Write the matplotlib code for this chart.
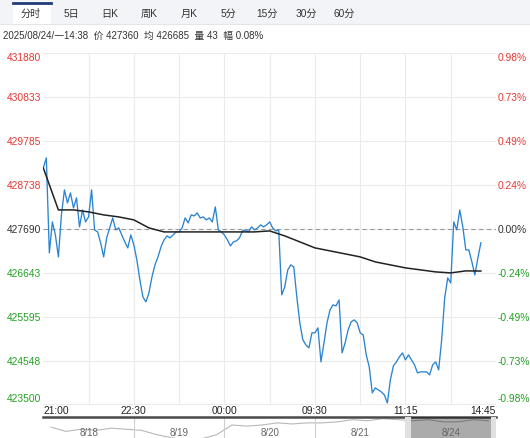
import matplotlib.pyplot as plt
from matplotlib.patches import Rectangle
import numpy as np

plt.rcParams['font.family'] = ['Liberation Sans', 'Noto Sans CJK SC', 'DejaVu Sans']

# Datos
tabs = ["分时", "5日", "日K", "周K", "月K", "5分", "15分", "30分", "60分"]
header = "2025/08/24/一14:38  价 427360  均 426685  量 43  幅 0.08%"
prev_close = 427690
price_ticks = [431880, 430833, 429785, 428738, 427690, 426643, 425595, 424548, 423500]
pct_ticks = ["0.98%", "0.73%", "0.49%", "0.24%", "0.00%", "-0.24%", "-0.49%", "-0.73%", "-0.98%"]
time_labels = ["21:00", "22:30", "00:00", "09:30", "11:15", "14:45"]
n_slots = 150

price = [
    429146, 429384, 427117, 427857, 427547, 427022, 428024, 428621, 428310, 428549,
    428191, 428430, 427738, 428143, 427857, 427976, 428621, 427666, 427618, 427356,
    427022, 427475, 427714, 427952, 427666, 427714, 427547, 427380, 427237, 427547,
    427308, 426950, 426473, 426068, 425948, 426163, 426545, 426831, 427022, 427261,
    427428, 427523, 427475, 427547, 427618, 427618, 427714, 427952, 427833, 428024,
    428000, 428072, 427952, 427976, 427905, 427952, 427857, 428215, 427666, 427618,
    427547, 427428, 427284, 427380, 427404, 427475, 427642, 427666, 427618, 427738,
    427666, 427714, 427785, 427738, 427785, 427857, 427714, 427642, 427666, 426115,
    426306, 426712, 426831, 426783, 426068, 425447, 425042, 424922, 424851, 425209,
    425209, 425328, 424517, 424970, 425447, 425757, 425877, 425853, 425996, 424731,
    424970, 425280, 425471, 425519, 425447, 425209, 425161, 424684, 424397, 423777,
    423896, 423849, 423801, 423729, 423538, 424087, 424421, 424517, 424636, 424731,
    424564, 424684, 424564, 424445, 424254, 424278, 424278, 424278, 424206, 424445,
    424517, 424326, 425042, 426044, 426521, 426402, 427857, 427666, 428143, 427738,
    427189, 427189, 426903, 426592, 426998, 427360,
]
avg_step = 5
avg_price = [
    429146, 428143, 428143, 428096, 428024, 427976, 427905, 427714, 427618, 427618,
    427618, 427618, 427618, 427618, 427618, 427642, 427523, 427380, 427237, 427165,
    427094, 427022, 426903, 426831, 426760, 426712, 426664, 426640, 426688, 426685,
]

nav_days = ["8/18", "8/19", "8/20", "8/21", "8/24"]
nav_price = [
    427500, 425500, 426500, 426000, 427000, 426500,
    426000, 424000, 422500, 421500, 422000, 424000,
    428500, 428000, 428500, 429500, 429000, 429500,
    429500, 430000, 431000, 430500, 431500, 431000,
    430500, 431000, 430000, 430000, 431000, 430500,
]

RED = "#e53935"
GREEN = "#23a123"
BLUE = "#2a84d2"
W, H = 530, 438


def box(l, t, r, b):
    return [l / W, 1 - b / H, (r - l) / W, (b - t) / H]


fig = plt.figure(figsize=(W / 100, H / 100), dpi=100)

# barra de pestañas
deco = fig.add_axes([0, 0, 1, 1])
deco.set_xlim(0, W)
deco.set_ylim(H, 0)
deco.axis("off")
deco.add_patch(Rectangle((0, 0), W, 24, color="#f2f4f7", lw=0))
deco.plot([0, W], [24, 24], color="#e2e5ea", lw=0.8)
deco.add_patch(Rectangle((13, 2.5), 38, 22, color="white", lw=0))
deco.plot([13, 51], [2.5, 2.5], color="#213b74", lw=2)
tab_x = [31, 71, 110, 149, 189, 228, 267, 306, 344]
for tx, name in zip(tab_x, tabs):
    deco.text(tx, 14, name, ha="center", va="center", fontsize=7.3, color="#333333")
deco.text(3, 36, header, ha="left", va="center", fontsize=7, color="#333333")

# gráfico principal
ax = fig.add_axes(box(43.3, 53.3, 496, 404.5))
ax.patch.set_alpha(0)
ax.set_xlim(0, n_slots)
ax.set_ylim(price_ticks[-1], price_ticks[0])
ax.set_yticks(price_ticks)
ax.set_xticks(np.linspace(0, n_slots, 11)[1:-1])
ax.grid(color="#ebebeb", lw=0.8)
ax.tick_params(length=0, labelleft=False, labelbottom=False)
for s in ax.spines.values():
    s.set_visible(False)
ax.axhline(prev_close, color="#9a9a9a", lw=0.8, dashes=(4, 3))

ax.plot(np.arange(len(price)), price, color=BLUE, lw=0.95, zorder=3)
ax.plot(np.arange(len(avg_price)) * avg_step, avg_price, color="#222222", lw=1.1, zorder=4)

ytr = ax.get_yaxis_transform()
for i, (p, lab) in enumerate(zip(price_ticks, pct_ticks)):
    c = RED if p > prev_close else (GREEN if p < prev_close else "#333333")
    va = "top" if i == 0 else ("bottom" if i == len(price_ticks) - 1 else "center_baseline")
    ax.text(-0.005, p, str(p), transform=ytr, ha="right", va=va, fontsize=7.4, color=c)
    ax.text(1.004, p, lab, transform=ytr, ha="left", va=va, fontsize=7.4, color=c)

xtr = ax.get_xaxis_transform()
tick_pos = np.linspace(0, n_slots, len(time_labels))
for i, (t, lab) in enumerate(zip(tick_pos, time_labels)):
    ha = "left" if i == 0 else ("right" if i == len(time_labels) - 1 else "center")
    ax.text(t, -0.019, lab, transform=xtr, ha=ha, va="center", fontsize=7.4, color="#222222")

# navegador inferior
nav = fig.add_axes(box(43.3, 416.5, 496, 442))
nav.set_xlim(0, len(nav_days))
nav.set_ylim(420500, 432500)
nav.set_xticks([])
nav.set_yticks([])
for k, s in nav.spines.items():
    s.set_visible(k == "top")
nav.spines["top"].set_color("#4a4a4a")
nav.spines["top"].set_linewidth(1.8)
per_day = len(nav_price) // len(nav_days)
nav.plot((np.arange(len(nav_price)) + 0.5) / per_day, nav_price, color="#b8b8b8", lw=0.8)
for d in range(1, len(nav_days)):
    nav.axvline(d, color="#cfcfcf", lw=0.8)
ntr = nav.get_xaxis_transform()
for i, day in enumerate(nav_days):
    nav.text(i + 0.5, 0.35, day, transform=ntr, ha="center", va="center",
             fontsize=7, color="#666666", zorder=5)
sel = len(nav_days) - 1
nav.axvspan(sel, len(nav_days), color="black", alpha=0.33, lw=0, zorder=3)
nav.axvspan(sel, sel + 0.06, color="#e0e0e0", lw=0, zorder=4)
nav.axvspan(len(nav_days) - 0.06, len(nav_days), color="#e0e0e0", lw=0, zorder=4)

fig.savefig("out.png", dpi=100)
